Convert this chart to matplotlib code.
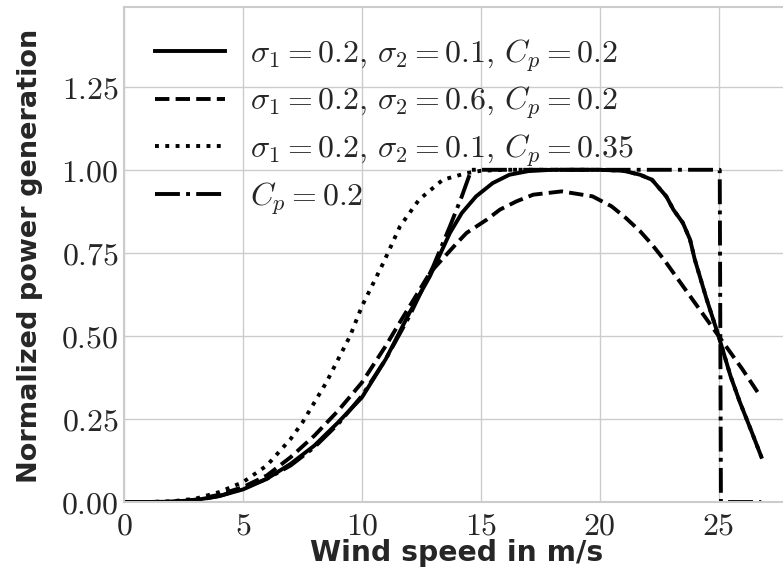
import matplotlib
matplotlib.use("Agg")
import matplotlib.pyplot as plt

# ---------------- data ----------------
solid_x = [0, 1, 2, 3, 4, 5, 6, 7, 8, 9, 10, 11, 12, 12.86, 13.7, 14.2, 14.8, 15.5, 16.2,
           17, 18, 19, 20, 21, 21.7, 22.2, 22.8, 23.1, 23.5, 23.8, 24.0, 24.5, 25.0,
           25.5, 25.9, 26.4, 26.8]
solid_y = [0, 0, 0.001, 0.006, 0.018, 0.038, 0.07, 0.115, 0.17, 0.24, 0.315, 0.43, 0.57,
           0.68, 0.81, 0.87, 0.92, 0.96, 0.985, 0.996, 1.0, 1.0, 1.0, 0.997, 0.985, 0.97,
           0.92, 0.88, 0.84, 0.79, 0.73, 0.61, 0.5, 0.38, 0.30, 0.21, 0.136]

dashed_x = [0, 1, 2, 3, 4, 5, 6, 7, 8, 9, 10, 11, 11.5, 12.86, 14, 14.4, 15.25, 15.8,
            16.5, 17.2, 18.4, 19.7, 20.5, 21.1, 21.7, 22.2, 22.7, 23.8, 25.0, 26.0, 26.65]
dashed_y = [0, 0, 0.001, 0.007, 0.022, 0.045, 0.08, 0.135, 0.2, 0.275, 0.36, 0.47, 0.53,
            0.69, 0.78, 0.81, 0.85, 0.88, 0.905, 0.925, 0.935, 0.92, 0.89, 0.855, 0.815,
            0.775, 0.73, 0.62, 0.5, 0.4, 0.33]

dotted_x = [0, 1, 2, 3, 4, 5, 6, 7, 7.5, 8.5, 9.5, 10, 10.9, 11.6, 12.4, 13.4, 14.4, 15,
            16, 17, 18, 19, 20, 21, 21.7, 22.2, 22.8, 23.1, 23.5, 23.8, 24.0, 24.5, 25.0,
            25.5, 25.9, 26.4, 26.8]
dotted_y = [0, 0, 0.002, 0.01, 0.03, 0.06, 0.11, 0.19, 0.24, 0.36, 0.5, 0.59, 0.72, 0.83,
            0.91, 0.97, 0.99, 0.997, 1.0, 1.0, 1.0, 1.0, 1.0, 0.997, 0.985, 0.97, 0.92,
            0.88, 0.84, 0.79, 0.73, 0.61, 0.5, 0.38, 0.30, 0.21, 0.136]

dashdot_x = [0, 1, 2, 3, 4, 5, 6, 7, 8, 9, 10, 11, 12, 13, 13.7, 14.2, 14.6, 16, 18, 20,
             22, 24, 25.05, 25.1, 26, 26.8]
dashdot_y = [0, 0, 0, 0.005, 0.018, 0.04, 0.07, 0.11, 0.165, 0.235, 0.32, 0.43, 0.56,
             0.71, 0.83, 0.92, 1.0, 1.0, 1.0, 1.0, 1.0, 1.0, 1.0, 0.0, 0.0, 0.0]

series_labels = [
    r"$\sigma_1 = 0.2,\, \sigma_2 = 0.1,\, C_p = 0.2$",
    r"$\sigma_1 = 0.2,\, \sigma_2 = 0.6,\, C_p = 0.2$",
    r"$\sigma_1 = 0.2,\, \sigma_2 = 0.1,\, C_p = 0.35$",
    r"$C_p = 0.2$",
]

x_ticks = [0, 5, 10, 15, 20, 25]
x_tick_labels = [r"$0$", r"$5$", r"$10$", r"$15$", r"$20$", r"$25$"]
y_ticks = [0.0, 0.25, 0.5, 0.75, 1.0, 1.25]
y_tick_labels = [r"$0.00$", r"$0.25$", r"$0.50$", r"$0.75$", r"$1.00$", r"$1.25$"]

x_label = "Wind speed in m/s"
y_label = "Normalized power generation"

# ---------------- style ----------------
plt.rcParams["mathtext.fontset"] = "cm"
plt.rcParams["axes.unicode_minus"] = False

text_col = "#262626"
grid_col = "#cccccc"

fig = plt.figure(figsize=(7.83, 5.80), dpi=100)
ax = fig.add_axes([124.3 / 783, 78 / 580, (787 - 124.3) / 783, (502 - 7) / 580])

lw = 2.8
ax.plot(solid_x, solid_y, color="black", lw=lw, ls="-", label=series_labels[0])
ax.plot(dashed_x, dashed_y, color="black", lw=lw, ls="--", label=series_labels[1])
ax.plot(dotted_x, dotted_y, color="black", lw=lw, ls=":", label=series_labels[2])
ax.plot(dashdot_x, dashdot_y, color="black", lw=lw, ls="-.", label=series_labels[3])

ax.set_xlim(0, (787 - 124.3) / 23.77)
ax.set_ylim(0, 1.49)

ax.set_xticks(x_ticks)
ax.set_xticklabels(x_tick_labels)
ax.set_yticks(y_ticks)
ax.set_yticklabels(y_tick_labels)
ax.tick_params(axis="both", length=0, labelsize=23, colors=text_col)
ax.tick_params(axis="x", pad=6)
ax.tick_params(axis="y", pad=4)

ax.grid(True, color=grid_col, lw=1.0)
ax.set_axisbelow(True)
for s in ax.spines.values():
    s.set_color(grid_col)
    s.set_linewidth(1.5)

ax.set_xlabel(x_label, fontsize=20.3, fontweight="bold", color=text_col,
              family="DejaVu Sans", va="center")
ax.set_ylabel(y_label, fontsize=19.5, fontweight="bold", color=text_col,
              family="DejaVu Sans", va="center", ha="center")
ax.xaxis.set_label_coords(457 / 783, 1 - 553 / 580, transform=fig.transFigure)
ax.yaxis.set_label_coords(30 / 783, 1 - 256 / 580, transform=fig.transFigure)

leg = ax.legend(loc="upper left", fontsize=23, frameon=False, handlelength=2.2,
                labelspacing=0.36, borderaxespad=0.55)
for t in leg.get_texts():
    t.set_color(text_col)

fig.savefig("out.png", dpi=100)
